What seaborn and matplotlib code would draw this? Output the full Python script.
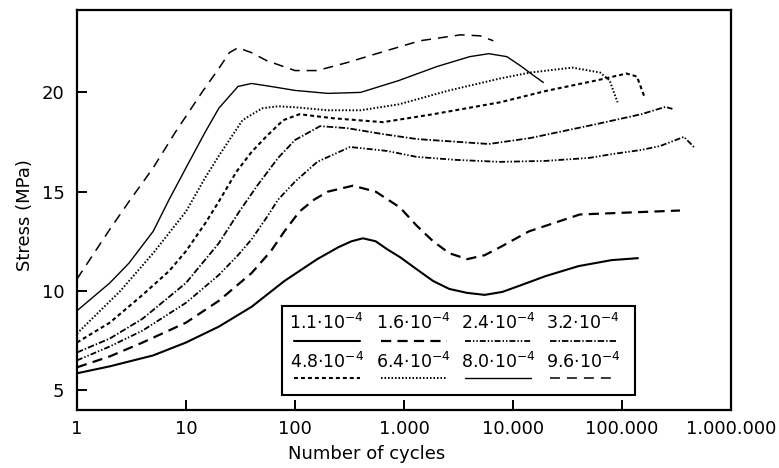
import pandas as pd
import seaborn as sns
import matplotlib.pyplot as plt
from matplotlib.patches import Rectangle

# strain rates (x 10^-4), one curve each
rates = ["1.1", "1.6", "2.4", "3.2", "4.8", "6.4", "8.0", "9.6"]

# cycles / stress
n_11 = [1, 2, 5, 10, 20, 40, 80, 160, 250, 330, 420, 550, 700, 920, 1300, 1850, 2600, 3800, 5500, 8000, 12000, 20000, 40000, 80000, 140000]
s_11 = [5.85, 6.2, 6.75, 7.4, 8.2, 9.2, 10.5, 11.6, 12.2, 12.5, 12.65, 12.5, 12.1, 11.7, 11.1, 10.5, 10.1, 9.9, 9.8, 9.95, 10.3, 10.75, 11.25, 11.55, 11.65]

n_16 = [1, 2, 4, 10, 20, 40, 60, 80, 110, 150, 200, 340, 550, 920, 1300, 1850, 2600, 3800, 5500, 7600, 14000, 41000, 117000, 340000]
s_16 = [6.15, 6.7, 7.4, 8.4, 9.5, 10.9, 12.0, 13.0, 14.0, 14.6, 15.0, 15.3, 15.0, 14.2, 13.3, 12.5, 11.9, 11.6, 11.8, 12.2, 13.0, 13.85, 13.95, 14.05]

n_24 = [1, 2, 4, 10, 20, 30, 40, 55, 70, 100, 160, 320, 700, 1310, 3000, 7600, 20000, 50000, 83000, 150000, 224000, 370000, 466000]
s_24 = [6.5, 7.2, 8.0, 9.4, 10.8, 11.8, 12.6, 13.7, 14.6, 15.5, 16.5, 17.25, 17.05, 16.75, 16.6, 16.5, 16.55, 16.7, 16.9, 17.1, 17.3, 17.76, 17.2]

n_32 = [1, 2, 4, 10, 20, 30, 45, 70, 100, 170, 300, 640, 1310, 6000, 14400, 58000, 150000, 250000, 290000]
s_32 = [6.9, 7.6, 8.6, 10.4, 12.4, 13.9, 15.3, 16.7, 17.6, 18.3, 18.2, 17.9, 17.65, 17.4, 17.7, 18.4, 18.9, 19.27, 19.17]

n_48 = [1, 2, 4, 7, 10, 15, 20, 29, 40, 55, 78, 110, 222, 640, 1850, 7600, 20300, 58000, 110000, 137000, 160000]
s_48 = [7.4, 8.4, 9.8, 11.0, 12.0, 13.4, 14.5, 16.0, 17.0, 17.8, 18.6, 18.9, 18.7, 18.5, 18.9, 19.5, 20.08, 20.6, 20.95, 20.8, 19.8]

n_64 = [1, 2.5, 5, 10, 15, 20, 25, 33, 50, 70, 100, 200, 400, 900, 2600, 7600, 14400, 35000, 63000, 77000, 91000]
s_64 = [7.85, 10.0, 11.9, 14.0, 15.7, 16.8, 17.6, 18.6, 19.2, 19.3, 19.25, 19.1, 19.1, 19.4, 20.1, 20.7, 21.0, 21.25, 21.0, 20.6, 19.5]

n_80 = [1, 2, 3, 5, 7, 10, 15, 20, 30, 40, 60, 100, 200, 400, 900, 2000, 4000, 6000, 8800, 12000, 15000, 19000]
s_80 = [9.0, 10.4, 11.4, 13.0, 14.6, 16.2, 18.0, 19.2, 20.3, 20.45, 20.3, 20.1, 19.95, 20.0, 20.6, 21.3, 21.8, 21.95, 21.8, 21.3, 20.9, 20.5]

n_96 = [1, 2, 3, 5, 8, 14, 20, 25, 30, 40, 55, 100, 160, 300, 600, 1400, 3300, 5000, 6600]
s_96 = [10.6, 13.1, 14.5, 16.2, 18.0, 20.0, 21.2, 22.0, 22.25, 22.0, 21.6, 21.1, 21.1, 21.5, 22.0, 22.6, 22.9, 22.85, 22.6]

cycles = [n_11, n_16, n_24, n_32, n_48, n_64, n_80, n_96]
stress = [s_11, s_16, s_24, s_32, s_48, s_64, s_80, s_96]

xticks = [1, 10, 100, 1000, 10000, 100000, 1000000]
xtick_labels = ["1", "10", "100", "1.000", "10.000", "100.000", "1.000.000"]
yticks = [5, 10, 15, 20]

# line look per curve: (linewidth, linestyle)
styles = {
    "1.1": (1.5, "-"),
    "1.6": (1.6, (0, (4.6, 2.8))),
    "2.4": (1.3, (0, (3.3, 1.1, 0.8, 1.1, 0.8, 1.1))),
    "3.2": (1.3, (0, (3.6, 1.1, 0.8, 1.1))),
    "4.8": (1.5, (0, (1.9, 1.45))),
    "6.4": (1.4, (0, (0.8, 1.0))),
    "8.0": (1.0, "-"),
    "9.6": (1.1, (0, (6.5, 4.6))),
}

rows = []
for r, n, s in zip(rates, cycles, stress):
    for a, b in zip(n, s):
        rows.append({"rate": r, "cycles": a, "stress": b})
df = pd.DataFrame(rows)

sns.set_style("white")
plt.rcParams["font.family"] = ["DejaVu Sans"]
plt.rcParams["mathtext.default"] = "regular"
plt.rcParams["text.color"] = "black"
plt.rcParams["axes.labelcolor"] = "black"
plt.rcParams["xtick.color"] = "black"
plt.rcParams["ytick.color"] = "black"

fig = plt.figure(figsize=(7.79, 4.68), dpi=100)
ax = fig.add_axes([0.0988, 0.1239, 0.8396, 0.8547])
ax.set_xscale("log")

for r in rates:
    lw, ls = styles[r]
    sns.lineplot(data=df[df["rate"] == r], x="cycles", y="stress", ax=ax,
                 color="black", lw=lw, linestyle=ls, sort=False,
                 estimator=None, errorbar=None)

ax.set_xlim(1, 1000000)
ax.set_ylim(4.0, 24.15)
ax.set_xticks(xticks)
ax.set_xticklabels(xtick_labels)
ax.set_yticks(yticks)
ax.minorticks_off()
ax.tick_params(axis="both", direction="in", length=7, width=1.4,
               labelsize=13, color="black", labelcolor="black",
               bottom=True, left=True)
ax.tick_params(axis="y", pad=9)
ax.tick_params(axis="x", pad=7)
for sp in ax.spines.values():
    sp.set_linewidth(1.6)
    sp.set_color("black")

ax.set_xlabel("Number of cycles", fontsize=13, va="top", color="black")
ax.xaxis.set_label_coords(0.443, -0.0875)
ax.set_ylabel("Stress (MPa)", fontsize=13, ha="center", va="center", color="black")
ax.yaxis.set_label_coords(-0.0795, 0.4875)

# legend: label over a line sample, 2 rows x 4 columns
ax.add_patch(Rectangle((0.3135, 0.0375), 0.5395, 0.2225, transform=ax.transAxes,
                       fill=True, facecolor="white", edgecolor="black", lw=1.5, zorder=5))
col_x = [0.382, 0.515, 0.644, 0.774]
text_y = [0.2175, 0.12]
line_y = [0.1725, 0.08]
for i, r in enumerate(rates):
    row, col = divmod(i, 4)
    lw, ls = styles[r]
    ax.text(col_x[col], text_y[row], r + "·10$^{-4}$", transform=ax.transAxes,
            ha="center", va="center", fontsize=12.5, color="black", zorder=6)
    ax.plot([col_x[col] - 0.05, col_x[col] + 0.05], [line_y[row], line_y[row]],
            transform=ax.transAxes, color="black", lw=lw, linestyle=ls, zorder=6)

if ax.get_legend():
    ax.get_legend().remove()

fig.savefig("out.png", dpi=100)
